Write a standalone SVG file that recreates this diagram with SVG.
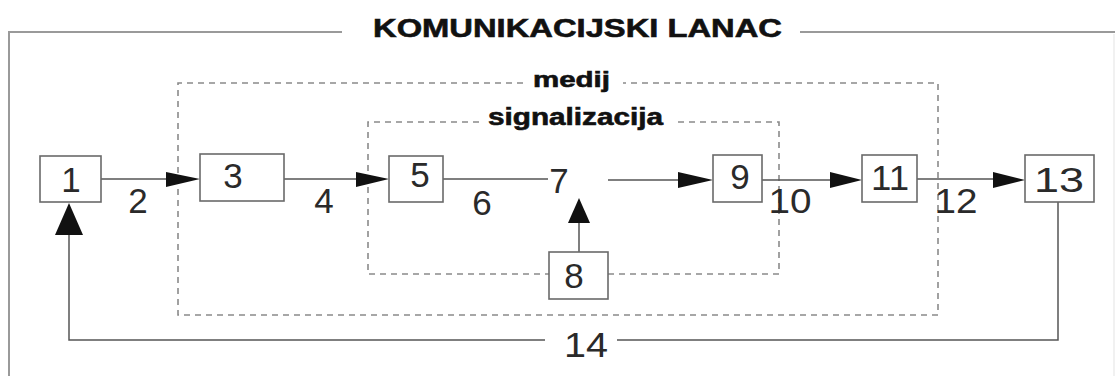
<svg xmlns="http://www.w3.org/2000/svg" width="1115" height="376" viewBox="0 0 1115 376">
<style>
.frame{fill:none;stroke:#9a9a9a;stroke-width:2}
.faint{fill:none;stroke:#ececec;stroke-width:1.5}
.dash{fill:none;stroke:#8a8a8a;stroke-width:1.6;stroke-dasharray:6 5}
.box{fill:#fff;stroke:#6a6a6a;stroke-width:1.6}
.line{fill:none;stroke:#555;stroke-width:1.5}
.num{font-family:"Liberation Sans",Arial,sans-serif;font-size:35px;fill:#2a2a2a;text-anchor:middle}
.head{font-family:"Liberation Sans",Arial,sans-serif;font-weight:bold;fill:#111;stroke:#111;stroke-width:0.6}
.ah{fill:#111}
</style>
<rect width="1115" height="376" fill="#fff"/>
<g id="frame">
<path class="frame" d="M342,32 H9 V376"/>
<path class="frame" d="M800,32 H1115"/>
<path class="faint" d="M1114,34 V376"/>
<text class="head" x="373" y="37" font-size="26" textLength="409" lengthAdjust="spacingAndGlyphs">KOMUNIKACIJSKI LANAC</text>
</g>
<g id="medij">
<path class="dash" d="M523,83 H178 V315 H938 V83 H623"/>
<text class="head" x="533" y="87" font-size="22" textLength="77" lengthAdjust="spacingAndGlyphs">medij</text>
</g>
<g id="signalizacija">
<path class="dash" d="M479,122 H368 V274 H549"/>
<path class="dash" d="M608,274 H779 V122 H678"/>
<text class="head" x="488" y="125" font-size="23" textLength="175" lengthAdjust="spacingAndGlyphs">signalizacija</text>
</g>
<g id="connectors">
<path class="line" d="M101,179 H170"/>
<polygon class="ah" points="166,172 200,179 166,187"/>
<path class="line" d="M284,179 H360"/>
<polygon class="ah" points="356,172 389,179 356,187"/>
<path class="line" d="M443,179 H548"/>
<path class="line" d="M608,180 H682"/>
<polygon class="ah" points="678,172 713,180 678,188"/>
<path class="line" d="M762,180 H834"/>
<polygon class="ah" points="830,172 862,180 830,188"/>
<path class="line" d="M917,179 H997"/>
<polygon class="ah" points="993,172 1025,180 993,188"/>
<path class="line" d="M579,252 V218"/>
<polygon class="ah" points="568,223 579,198 590,223"/>
<path class="line" d="M1058,202 V340 H617"/>
<path class="line" d="M545,340 H69 V230"/>
<polygon class="ah" points="55,235 69,203 83,235"/>
</g>
<g id="n1"><rect class="box" x="40" y="156" width="61" height="46"/><text class="num" x="71" y="192">1</text></g>
<g id="n3"><rect class="box" x="200" y="154" width="84" height="47"/><text class="num" x="233" y="188">3</text></g>
<g id="n5"><rect class="box" x="389" y="156" width="54" height="46"/><text class="num" x="420" y="187">5</text></g>
<g id="n9"><rect class="box" x="713" y="155" width="49" height="47"/><text class="num" x="740" y="189">9</text></g>
<g id="n11"><rect class="box" x="862" y="155" width="55" height="47"/><text class="num" x="890" y="190" textLength="38" lengthAdjust="spacingAndGlyphs">11</text></g>
<g id="n13"><rect class="box" x="1025" y="155" width="69" height="47"/><text class="num" x="1059" y="192" textLength="50" lengthAdjust="spacingAndGlyphs">13</text></g>
<g id="n8"><rect class="box" x="549" y="252" width="59" height="47"/><text class="num" x="574" y="288">8</text></g>
<g id="labels">
<text class="num" x="138" y="213">2</text>
<text class="num" x="324" y="213">4</text>
<text class="num" x="482" y="215">6</text>
<text class="num" x="559" y="193">7</text>
<text class="num" x="790" y="213" textLength="43" lengthAdjust="spacingAndGlyphs">10</text>
<text class="num" x="956" y="213" textLength="43" lengthAdjust="spacingAndGlyphs">12</text>
<text class="num" x="586" y="357" textLength="44" lengthAdjust="spacingAndGlyphs">14</text>
</g>
</svg>
